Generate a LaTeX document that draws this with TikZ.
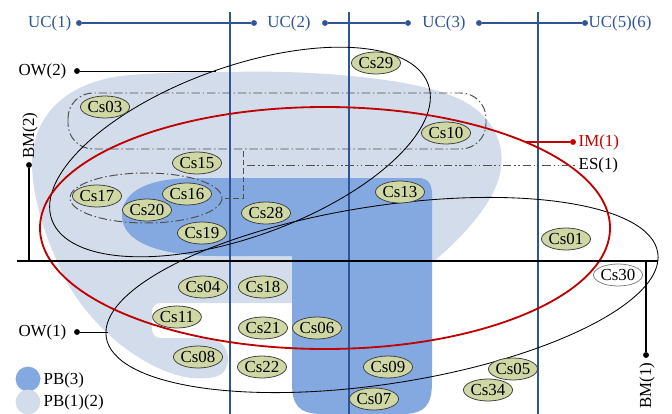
\documentclass[tikz,border=0pt]{standalone}
\usepackage{fontspec}
\setmainfont{Liberation Serif}
\usetikzlibrary{shapes.geometric}
\definecolor{cucblue}{HTML}{2F5597}
\definecolor{cimred}{HTML}{C00000}
\definecolor{cpbdark}{HTML}{83A9E0}
\definecolor{cpblight}{HTML}{D3DCEA}
\definecolor{ccase}{HTML}{CFD7A4}
\definecolor{cgrey}{HTML}{505050}
\tikzset{
  every picture/.style={x=0.025cm, y=-0.025cm, font=\fontsize{12}{14}\selectfont},
  case/.style={ellipse, draw=black!75, fill=ccase, line width=0.55pt, inner sep=0pt, minimum width=1.22cm, minimum height=0.55cm, font=\fontsize{12}{14}\selectfont},
  opencase/.style={case, fill=white, draw=black!50},
  dotmark/.style={circle, fill=#1, inner sep=0pt, minimum size=4.2pt},
  dotmark/.default=black,
  ucline/.style={draw=cucblue, line width=0.9pt},
  ucgrid/.style={draw=cucblue, line width=0.8pt},
  lbl/.style={inner sep=1pt},
  owline/.style={draw=black, line width=0.6pt},
  boxdash/.style={draw=cgrey, line width=0.7pt, dash pattern=on 6pt off 2pt on 1pt off 2pt},
  esline/.style={draw=cgrey, line width=0.7pt, dash pattern=on 6pt off 2pt on 1pt off 2pt on 1pt off 2pt},
  legdot/.style={circle, fill=#1, inner sep=0pt, minimum size=0.62cm},
}

\begin{document}
\begin{tikzpicture}
  \useasboundingbox (0,0) rectangle (672,414);
  % PB(1)(2) region
  \fill[cpblight] (230,72) .. controls (300,70) and (400,76) .. (450,95)
    .. controls (490,110) and (505,140) .. (501,168)
    .. controls (497,200) and (465,235) .. (433,262)
    -- (292,262) -- (292,303)
    [rounded corners=6pt] -- (152,303) -- (152,338) [sharp corners] -- (205,338)
    .. controls (228,338) and (232,360) .. (225,370)
    .. controls (220,378) and (210,379) .. (190,378)
    .. controls (140,370) and (80,320) .. (57,261)
    .. controls (45,235) and (33,200) .. (32,165)
    .. controls (32,120) and (60,85) .. (120,76)
    .. controls (160,72) and (200,72) .. (230,72) -- cycle;
  % PB(3) region
  \fill[cpbdark] (292,256) -- (215,256) .. controls (160,256) and (122,242) .. (122,216)
    .. controls (122,190) and (150,178) .. (195,178) -- (418,178)
    .. controls (428,178) and (432,184) .. (432,194) -- (432,382)
    .. controls (432,405) and (425,413) .. (405,414) -- (320,414)
    .. controls (298,413) and (292,405) .. (292,382) -- cycle;

  % legend
  \node[legdot=cpbdark] (legdark) at (28,379) {};
  \node[lbl, anchor=west] (legdarktxt) at (42,380) {PB(3)};
  \node[legdot=cpblight] (leglight) at (28,402) {};
  \node[lbl, anchor=west] (leglighttxt) at (42,402) {PB(1)(2)};

  % user columns
  \foreach \gx in {230,349,538}
    \draw[ucgrid] (\gx,12) -- (\gx,414);

  % dashed groups
  \draw[boxdash, rounded corners=18pt] (68,93) rectangle (486,149);
  \draw[boxdash] (146,198) ellipse [x radius=76, y radius=25];
  \draw[cgrey, line width=0.7pt, dash pattern=on 4pt off 2pt] (225,198) -| (243,150);

  % opinion windows and impact
  \draw[owline, rotate around={19.8:(240,152)}] (240,152) ellipse [x radius=200, y radius=85];
  \draw[owline, rotate around={8.7:(382,295)}] (382,295) ellipse [x radius=279, y radius=89];
  \draw[cimred, line width=1.3pt] (325,228) ellipse [x radius=285, y radius=121];

  % axis and markers
  \draw[black, line width=1.1pt] (17,261) -- (658,261);
  \coordinate (bm2foot) at (29,261);
  \node[dotmark] (bm2dot) at (29,165) {};
  \draw[line width=1.1pt] (bm2dot) -- (bm2foot);
  \node[lbl, rotate=90, anchor=west] (bm2) at (30,160) {BM(2)};
  \coordinate (bm1top) at (646,261);
  \node[dotmark] (bm1dot) at (646,355) {};
  \draw[line width=1.1pt] (bm1top) -- (bm1dot);
  \node[lbl, rotate=90, anchor=east] (bm1) at (647,361) {BM(1)};

  % UC line
  \node[lbl, text=cucblue, anchor=east] (uc1) at (73,23) {UC(1)};
  \node[lbl, text=cucblue] (uc2) at (289,23) {UC(2)};
  \node[lbl, text=cucblue] (uc3) at (444,23) {UC(3)};
  \node[lbl, text=cucblue, anchor=west] (uc56) at (587,23) {UC(5)(6)};
  \node[dotmark=cucblue] (ucd1) at (79,23) {};
  \node[dotmark=cucblue] (ucd2) at (254,23) {};
  \node[dotmark=cucblue] (ucd3) at (325,23) {};
  \node[dotmark=cucblue] (ucd4) at (408,23) {};
  \node[dotmark=cucblue] (ucd5) at (479,23) {};
  \node[dotmark=cucblue] (ucd6) at (585,23) {};
  \draw[ucline] (ucd1) -- (ucd2);
  \draw[ucline] (ucd3) -- (ucd4);
  \draw[ucline] (ucd5) -- (ucd6);

  % side labels
  \node[lbl, anchor=east] (ow2) at (68,71) {OW(2)};
  \node[dotmark] (ow2dot) at (77,71) {};
  \coordinate (ow2end) at (216,71);
  \draw[owline] (ow2dot) -- (ow2end);
  \node[lbl, anchor=east] (ow1) at (68,332) {OW(1)};
  \node[dotmark] (ow1dot) at (77,332) {};
  \coordinate (ow1end) at (108,332);
  \draw[owline] (ow1dot) -- (ow1end);
  \node[lbl, text=cimred, anchor=west] (im1) at (577,142) {IM(1)};
  \node[dotmark=cimred] (im1dot) at (573,142) {};
  \coordinate (im1end) at (526,142);
  \draw[cimred, line width=1.3pt] (im1end) -- (im1dot);
  \node[lbl, anchor=west] (es1) at (577,165) {ES(1)};
  \coordinate (es1end) at (247,165);
  \draw[esline] (es1end) -- (es1.west);

  % cases
  \node[case] (cs29) at (376,63) {Cs29};
  \node[case] (cs03) at (105,107) {Cs03};
  \node[case] (cs10) at (446,133) {Cs10};
  \node[case] (cs15) at (197,163) {Cs15};
  \node[case] (cs17) at (97,196) {Cs17};
  \node[case] (cs16) at (187,194) {Cs16};
  \node[case] (cs20) at (147,210) {Cs20};
  \node[case] (cs19) at (202,233) {Cs19};
  \node[case] (cs28) at (266,213) {Cs28};
  \node[case] (cs13) at (400,192) {Cs13};
  \node[case] (cs01) at (566,239) {Cs01};
  \node[opencase] (cs30) at (618,275) {Cs30};
  \node[case] (cs04) at (203,287) {Cs04};
  \node[case] (cs18) at (263,287) {Cs18};
  \node[case] (cs11) at (177,317) {Cs11};
  \node[case] (cs21) at (263,328) {Cs21};
  \node[case] (cs06) at (317,328) {Cs06};
  \node[case] (cs08) at (198,357) {Cs08};
  \node[case] (cs22) at (262,367) {Cs22};
  \node[case] (cs09) at (388,367) {Cs09};
  \node[case] (cs07) at (374,399) {Cs07};
  \node[case] (cs05) at (513,369) {Cs05};
  \node[case] (cs34) at (488,390) {Cs34};
\end{tikzpicture}
\end{document}
